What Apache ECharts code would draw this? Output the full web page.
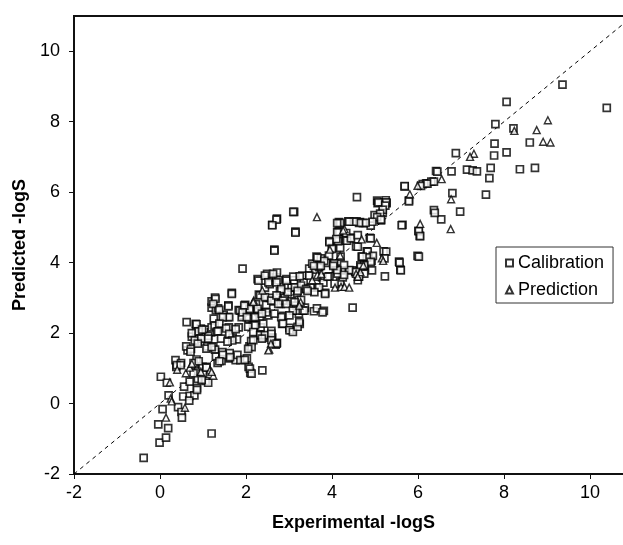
<!DOCTYPE html>
<html>
<head>
<meta charset="utf-8">
<script src="https://cdn.jsdelivr.net/npm/echarts@6/dist/echarts.min.js"></script>
<style>
  html, body { margin: 0; padding: 0; background: #fff; }
  #chart { width: 623px; height: 545px; }
</style>
</head>
<body>
<div id="chart"></div>
<script>
// axis ticks
var tickValues = [-2, 0, 2, 4, 6, 8, 10];
var axisMin = -2, axisMax = 11;

// Calibration set: [experimental, predicted]
var calibration = [
  [-0.38,-1.54],[-0.01,-1.11],[0.14,-0.97],[-0.04,-0.59],[0.19,-0.70],[1.20,-0.85],[0.06,-0.16],[0.02,0.76],
  [0.16,0.59],[0.20,0.23],[0.36,1.23],[0.38,1.04],[0.49,1.15],[0.42,-0.10],[0.50,-0.24],[0.51,-0.40],
  [0.54,0.20],[0.56,0.48],[0.69,0.62],[0.69,0.22],[0.80,0.23],[0.64,1.51],[0.61,1.62],[0.72,1.55],
  [0.62,2.31],[0.81,1.09],[0.89,0.91],[0.88,0.70],[0.86,0.44],[0.85,1.25],[0.74,1.90],[0.83,2.26],
  [0.84,2.04],[0.88,1.75],[0.99,1.04],[1.00,0.84],[1.06,0.64],[1.08,1.04],[1.10,1.62],[1.12,0.59],
  [0.95,2.13],[1.03,2.02],[1.07,2.10],[1.19,2.02],[1.12,1.92],[1.20,2.16],[1.20,2.72],[1.20,2.90],
  [1.28,3.01],[1.30,2.65],[1.25,2.41],[1.27,2.21],[1.32,2.04],[1.35,2.70],[1.24,1.62],[1.28,1.53],
  [1.30,1.33],[1.34,1.15],[1.43,1.21],[1.45,1.46],[1.48,2.52],[1.58,2.45],[1.59,2.79],[1.60,2.16],
  [1.62,1.43],[1.67,3.14],[1.62,1.28],[1.69,1.87],[1.76,1.23],[1.80,1.38],[1.79,1.82],[1.83,2.16],
  [1.87,1.23],[1.92,3.83],[1.83,2.65],[1.92,2.50],[1.98,2.80],[2.02,1.28],[2.06,1.04],[2.10,0.87],
  [2.08,1.62],[2.12,1.77],[2.06,2.41],[2.10,2.65],[2.16,2.23],[2.19,2.21],[2.27,3.53],[2.30,3.09],
  [2.23,2.82],[2.29,2.60],[2.32,2.46],[2.34,2.16],[2.33,1.94],[2.38,0.94],[2.40,1.87],[2.44,3.29],
  [2.47,2.80],[2.49,3.68],[2.52,2.50],[2.55,3.39],[2.56,3.00],[2.59,2.06],[2.61,5.07],[2.66,4.37],
  [2.72,5.25],[2.61,1.87],[2.69,1.67],[2.72,1.72],[2.66,2.90],[2.70,3.58],[2.72,3.72],[2.75,3.50],
  [2.79,3.19],[2.81,2.83],[2.84,2.26],[2.86,2.49],[2.90,3.00],[2.94,3.53],[2.97,3.33],[3.01,2.15],
  [3.04,2.08],[3.06,2.90],[3.06,3.29],[3.12,3.50],[3.12,5.44],[3.15,4.88],[3.16,2.78],[3.19,3.14],
  [3.23,2.55],[3.25,2.26],[3.28,2.94],[3.31,3.63],[3.34,3.44],[3.37,2.72],[3.40,3.26],[3.47,3.83],
  [3.51,3.29],[3.54,3.97],[3.58,2.62],[3.61,3.73],[3.64,4.17],[3.67,3.29],[3.65,2.70],[3.70,3.87],
  [3.74,4.12],[3.77,3.58],[3.80,3.43],[3.81,2.63],[3.84,3.14],[3.88,3.99],[3.94,3.61],[3.94,4.61],
  [4.00,4.42],[4.03,3.95],[4.09,3.83],[4.16,5.15],[4.14,4.88],[4.16,4.68],[4.19,4.42],[4.20,4.17],
  [4.19,3.44],[4.23,3.78],[4.25,3.58],[4.32,4.63],[4.38,5.17],[4.42,4.71],[4.47,3.78],[4.48,2.72],
  [4.54,3.73],[4.56,4.46],[4.57,5.17],[4.58,5.86],[4.60,3.50],[4.62,3.61],[4.65,5.15],[4.66,3.92],
  [4.69,4.17],[4.72,5.12],[4.75,3.88],[4.81,4.32],[4.85,4.14],[4.88,4.70],[4.90,5.05],[4.92,4.05],
  [4.93,3.78],[4.99,5.35],[5.05,5.76],[5.06,5.69],[5.14,5.20],[5.18,5.42],[5.20,4.32],[5.23,3.61],
  [5.25,5.77],[5.27,5.69],[5.56,4.03],[5.59,3.80],[5.64,5.07],[5.69,6.16],[5.79,5.77],[5.99,4.19],
  [6.01,4.90],[6.04,4.76],[6.11,6.23],[6.19,6.25],[6.31,6.30],[6.37,5.49],[6.42,6.60],[6.54,5.23],
  [6.78,6.59],[6.80,5.97],[6.88,7.11],[6.98,5.45],[7.14,6.64],[7.27,6.62],[7.37,6.59],[7.58,5.93],
  [7.66,6.40],[7.69,6.69],[7.77,7.04],[7.78,7.38],[7.80,7.93],[8.06,8.56],[8.06,7.13],[8.22,7.81],
  [8.37,6.65],[8.60,7.41],[8.72,6.69],[9.36,9.05],[10.39,8.39],
  [1.67,3.11],[1.29,2.97],[1.24,2.83],[1.38,2.66],[1.59,2.76],[1.61,2.45],[1.46,2.45],[1.86,2.64],
  [1.98,2.74],[1.90,2.45],[0.85,2.25],[0.74,2.00],[0.90,2.05],[0.98,2.10],[1.38,2.27],[1.54,2.13],
  [1.35,2.05],[0.81,1.79],[0.96,1.84],[1.12,1.84],[1.42,1.84],[1.61,1.98],[1.76,2.11],[1.68,1.79],
  [1.57,1.76],[0.88,1.70],[0.71,1.47],[1.08,1.56],[1.20,1.60],[1.46,1.38],[1.63,1.32],[1.97,1.24],
  [0.39,1.09],[0.48,1.09],[0.78,1.15],[0.90,1.20],[1.38,1.20],[1.08,1.02],
  [2.29,3.49],[2.44,3.63],[2.52,3.44],[2.63,3.68],[2.71,3.44],[2.94,3.49],[3.10,3.60],[3.14,3.30],
  [3.25,3.61],[3.28,3.35],[3.40,3.25],[3.47,3.63],[3.63,3.60],[3.70,3.30],[3.84,3.11],[3.90,3.60],
  [4.06,3.40],[4.13,3.69],[3.59,3.16],[3.43,3.20],[3.20,3.20],[2.97,3.16],[2.82,3.25],[2.33,3.07],
  [2.44,3.02],[2.59,2.92],[2.71,3.07],[2.86,2.92],[2.75,2.83],[2.94,2.83],[3.13,2.88],[3.20,2.64],
  [3.32,2.64],[3.09,2.64],[3.01,2.50],[2.82,2.45],[2.66,2.55],[2.47,2.59],[2.27,2.69],[2.08,2.69],
  [1.96,2.78],[1.92,2.59],[2.02,2.45],[2.21,2.45],[2.37,2.55],[2.40,2.27],[2.21,2.22],[2.05,2.18],
  [2.86,2.27],[3.01,2.08],[3.09,2.03],[3.20,2.18],[3.24,2.31],[3.36,2.64],[3.78,2.59],[2.17,2.03],
  [2.33,1.94],[2.44,1.94],[2.59,1.98],[2.37,1.84],[2.59,1.80],[2.71,1.70],[2.17,1.80],[2.13,1.60],
  [2.05,1.55],[2.09,0.99],[2.13,0.85],
  [5.08,5.71],[5.26,5.71],[5.24,5.62],[5.18,5.50],[5.12,5.39],[5.05,5.29],[5.14,5.22],[4.94,5.16],
  [4.78,5.13],[4.63,5.13],[4.51,5.16],[4.40,5.16],[4.19,5.13],[4.17,4.88],[4.33,4.84],[4.35,4.62],
  [4.14,4.61],[4.44,4.69],[4.60,4.78],[4.90,4.69],[4.60,4.45],[4.83,4.31],[4.95,4.19],[4.81,4.15],
  [4.71,4.17],[4.90,4.02],[4.75,3.93],[4.67,3.88],[4.75,3.69],[4.63,3.60],[4.55,3.74],[4.40,3.79],
  [4.28,3.93],[4.12,3.79],[4.05,3.98],[4.28,3.65],[5.26,4.31],[5.22,4.12],[5.57,4.00],[5.60,3.78],
  [6.02,4.17],[5.62,5.06],[6.02,4.89],[6.05,4.75],[6.39,5.41],[5.69,6.17],[5.79,5.74],[6.07,6.18],
  [6.22,6.24],[6.37,6.30],[6.45,6.58],
  [3.10,5.44],[2.71,5.22],[2.61,5.06],[3.15,4.85],[2.66,4.34],[4.12,5.12],[4.12,4.86],[4.10,4.67],
  [3.94,4.58],[4.00,4.39],[3.93,4.20],[3.66,4.14],[3.82,4.05],[3.58,3.91],[3.74,3.91],[4.03,3.91],
  [0.97,0.67],[0.86,0.39],[0.68,0.08],[0.78,0.86]
];

// Prediction set: [experimental, predicted]
var prediction = [
  [0.14,-0.40],[0.23,0.60],[0.25,0.14],[0.27,0.06],[0.58,-0.12],[0.40,0.96],[0.60,0.86],[0.69,1.02],
  [0.74,1.13],[1.16,0.94],[1.24,0.79],[2.18,2.92],[2.54,1.53],[2.58,1.70],[2.38,3.21],[3.27,2.88],
  [3.65,5.29],[3.54,3.50],[3.66,3.65],[3.75,3.68],[3.95,4.37],[4.07,3.29],[4.21,3.31],[4.29,4.95],
  [4.29,3.31],[4.40,3.29],[4.56,3.68],[4.66,3.73],[4.69,4.66],[4.73,3.92],[5.04,4.56],[5.16,4.12],
  [5.19,4.05],[9.02,8.04],[8.76,7.76],[8.91,7.43],[9.08,7.41],[8.24,7.74],[7.30,7.09],[7.21,7.00],
  [6.55,6.37],[6.77,5.80],[6.76,4.95],[6.05,5.10],[5.81,5.94],[5.99,6.18],[2.17,2.88],[2.52,1.51],
  [3.24,2.78],[4.26,4.91],[4.19,4.20],[4.60,3.60],[1.20,0.90],[0.95,0.90]
];

var myChart = echarts.init(document.getElementById('chart'));

var labelFont = { color: '#000', fontFamily: 'Liberation Sans', fontSize: 18 };
var nameFont = { color: '#000', fontFamily: 'Liberation Sans', fontSize: 18, fontWeight: 'bold' };

var option = {
  animation: false,
  backgroundColor: '#fff',
  // plot runs past the right edge of the picture (x = 11 is cropped off)
  grid: {
    left: 74, top: 16, width: 559, height: 458,
    outerBoundsMode: 'none',
    containLabel: false,
    show: true, borderColor: '#111', borderWidth: 2
  },
  legend: {
    orient: 'vertical',
    left: 496, top: 247,
    padding: [7, 9, 4, 9],
    itemGap: 9,
    itemWidth: 7, itemHeight: 7,
    backgroundColor: '#fff',
    borderColor: '#333', borderWidth: 1,
    textStyle: { color: '#000', fontFamily: 'Liberation Sans', fontSize: 18 },
    data: ['Calibration', 'Prediction']
  },
  xAxis: {
    type: 'value', min: axisMin, max: axisMax, interval: 2,
    name: 'Experimental -logS', nameLocation: 'middle', nameGap: 40,
    nameTextStyle: nameFont,
    splitLine: { show: false },
    axisLine: { onZero: false, lineStyle: { color: '#111', width: 2 } },
    axisTick: { inside: false, length: 5, customValues: tickValues, lineStyle: { color: '#111', width: 1 } },
    axisLabel: Object.assign({ margin: 10, customValues: tickValues }, labelFont)
  },
  yAxis: {
    type: 'value', min: axisMin, max: axisMax, interval: 2,
    name: 'Predicted -logS', nameLocation: 'middle', nameGap: 41,
    nameTextStyle: nameFont,
    splitLine: { show: false },
    axisLine: { onZero: false, lineStyle: { color: '#111', width: 2 } },
    axisTick: { inside: false, length: 5, customValues: tickValues, lineStyle: { color: '#111', width: 1 } },
    axisLabel: Object.assign({ margin: 14, customValues: tickValues }, labelFont)
  },
  series: [
    {
      // 1:1 reference line
      type: 'line',
      data: [[axisMin, axisMin], [axisMax, axisMax]],
      symbol: 'none',
      silent: true,
      lineStyle: { color: '#000', width: 1, type: [4, 4] },
      z: 1
    },
    {
      name: 'Calibration',
      type: 'scatter',
      symbol: 'rect',
      symbolSize: 7,
      data: calibration,
      itemStyle: { color: '#fff', borderColor: '#000', borderWidth: 1.7 },
      z: 3
    },
    {
      name: 'Prediction',
      type: 'scatter',
      symbol: 'triangle',
      symbolSize: 7,
      data: prediction,
      itemStyle: { color: '#fff', borderColor: '#000', borderWidth: 1.4 },
      z: 4
    }
  ]
};

myChart.setOption(option);
</script>
</body>
</html>
